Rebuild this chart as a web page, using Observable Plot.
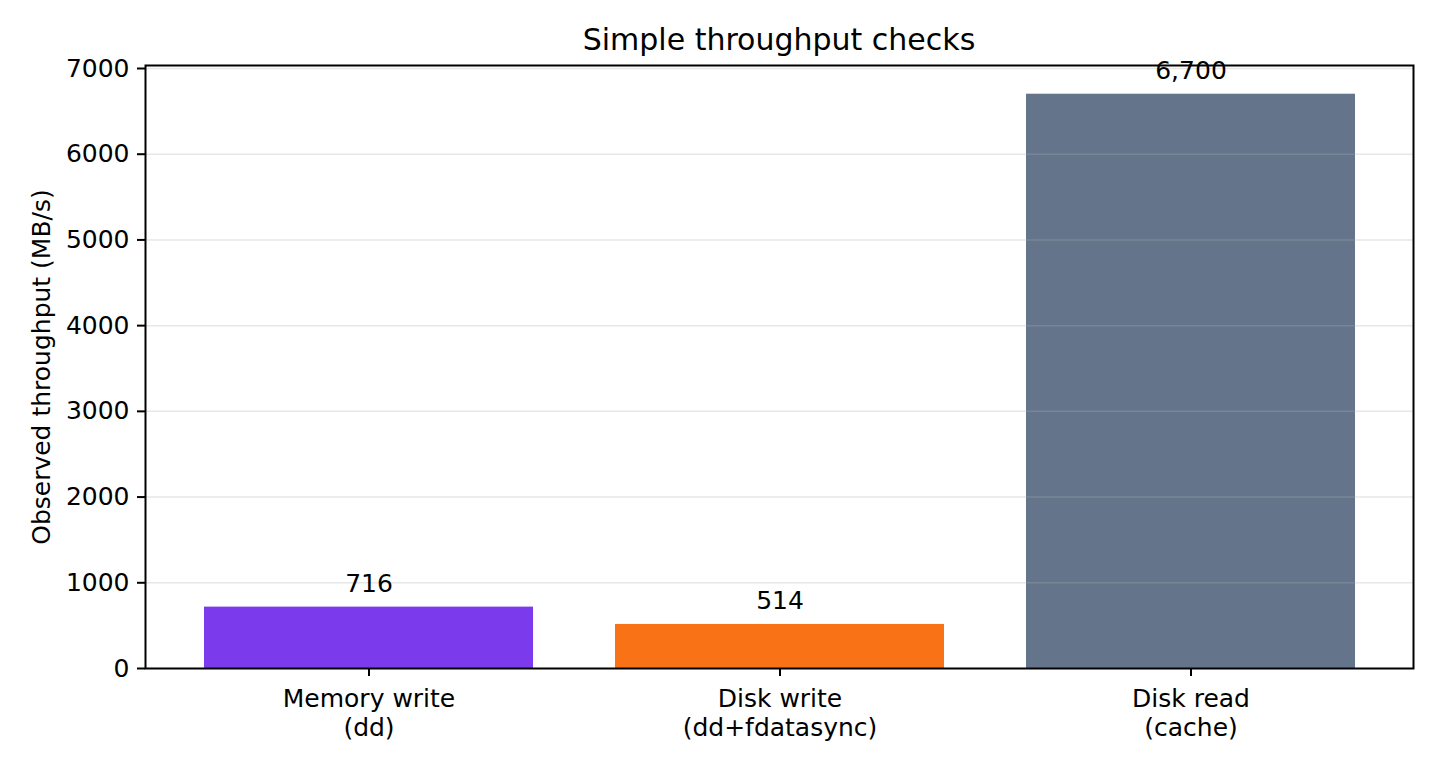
<!DOCTYPE html>
<html>
<head>
<meta charset="utf-8">
<script src="https://cdn.jsdelivr.net/npm/d3@7"></script>
<script src="https://cdn.jsdelivr.net/npm/@observablehq/plot@0.6"></script>
<style>
  html, body { margin: 0; padding: 0; background: white; }
  #wrap { position: relative; width: 1440px; height: 774px; overflow: hidden; }
  #title { position: relative; height: 55px; width: 1440px; }
  #title span { position: absolute; left: 145px; width: 1268px; top: 24.6px; text-align: center;
    font-family: "DejaVu Sans"; font-size: 30px; line-height: 1; color: black; white-space: nowrap; }
  #chart svg { display: block; overflow: visible; }
</style>
</head>
<body>
<div id="wrap">
  <div id="title"><span>Simple throughput checks</span></div>
  <div id="chart"></div>
</div>
<script>
const categories = ["Memory write", "Disk write", "Disk read"];
const categoryLabels = ["Memory write\n(dd)", "Disk write\n(dd+fdatasync)", "Disk read\n(cache)"];
const throughput = [716, 514, 6700];
const barColors = ["#7c3aed", "#f97316", "#64748b"];
const yTicks = [0, 1000, 2000, 3000, 4000, 5000, 6000, 7000];
const yLabel = "Observed throughput (MB/s)";

const data = categories.map((c, i) => ({category: c, value: throughput[i]}));
const labelOf = new Map(categories.map((c, i) => [c, categoryLabels[i]]));

const chart = Plot.plot({
  width: 1440,
  height: 719,
  marginTop: 10,
  marginBottom: 106,
  marginLeft: 145,
  marginRight: 27,
  style: {fontFamily: "DejaVu Sans", fontSize: "25px", color: "black", background: "white", overflow: "visible"},
  x: {type: "band", domain: categories, paddingInner: 0.2, paddingOuter: 0.14, label: null},
  y: {domain: [0, 7035], label: null},
  color: {domain: categories, range: barColors},
  marks: [
    Plot.barY(data, {x: "category", y: "value", fill: "category"}),
    Plot.gridY(yTicks, {stroke: "#b0b0b0", strokeOpacity: 0.3, strokeWidth: 1.5}),
    Plot.text(data, {x: "category", y: "value", text: d => d3.format(",")(d.value), dy: -15, lineAnchor: "bottom", fill: "black"}),
    Plot.frame({stroke: "black", strokeWidth: 2}),
    Plot.axisY(yTicks, {tickSize: 8, tickPadding: 8, strokeWidth: 2, tickFormat: d => String(d), label: null}),
    Plot.axisX({tickSize: 8, tickPadding: 10, strokeWidth: 2, tickFormat: d => labelOf.get(d), lineHeight: 1.15, label: null}),
    Plot.text([yLabel], {text: d => d, frameAnchor: "left", dx: -96, rotate: -90, lineAnchor: "bottom", textAnchor: "middle", fill: "black"})
  ]
});
document.getElementById("chart").appendChild(chart);
</script>
</body>
</html>
